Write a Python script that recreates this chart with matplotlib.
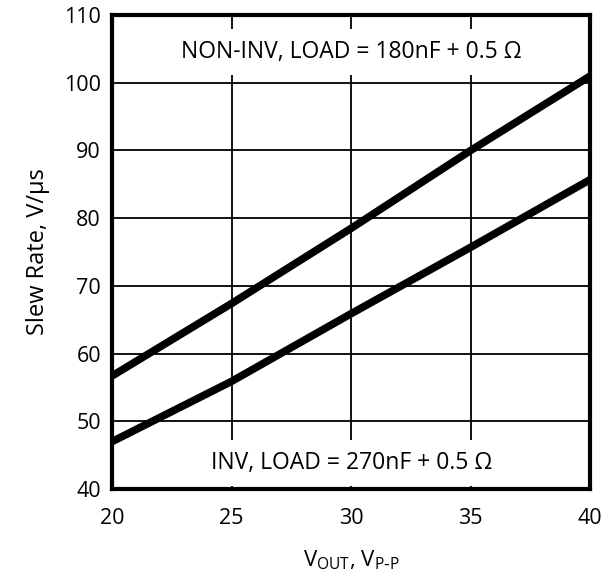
import matplotlib.pyplot as plt

plt.rcParams['font.family'] = ['Open Sans', 'DejaVu Sans']

# V_OUT (Vp-p) and slew rate (V/us)
vout = [20, 25, 30, 35, 40]
sr_noninv = [56.7, 67.4, 78.5, 90.0, 101.0]
sr_inv = [47.0, 55.9, 65.9, 75.7, 85.7]

fig = plt.figure(figsize=(6.06, 5.78), dpi=100)
ax = fig.add_axes([0.185, 0.154, 0.789, 0.820])

ax.plot(vout, sr_noninv, color='black', linewidth=5.5, solid_capstyle='butt', zorder=3)
ax.plot(vout, sr_inv, color='black', linewidth=5.5, solid_capstyle='butt', zorder=3)

ax.set_xlim(20, 40)
ax.set_ylim(40, 110)
ax.set_xticks([20, 25, 30, 35, 40])
ax.set_yticks(range(40, 111, 10))
ax.grid(True, color='black', linewidth=1.3)
ax.tick_params(length=0, labelsize=15.5)
ax.tick_params(axis='x', pad=14)
ax.tick_params(axis='y', pad=8)
for s in ax.spines.values():
    s.set_linewidth(3)
    s.set_zorder(5)

ax.text(30, 104.5, 'NON-INV, LOAD = 180nF + 0.5 Ω', ha='center', va='center',
        fontsize=16.5, zorder=4,
        bbox=dict(facecolor='white', edgecolor='none', pad=8))
ax.text(30, 43.8, 'INV, LOAD = 270nF + 0.5 Ω', ha='center', va='center',
        fontsize=16.5, zorder=4,
        bbox=dict(facecolor='white', edgecolor='none', pad=8))

ax.set_ylabel('Slew Rate, V/µs', fontsize=17, labelpad=10)
ax.set_xlabel(r'V$_{\mathregular{OUT}}$, V$_{\mathregular{P\text{-}P}}$', fontsize=16, labelpad=14)

fig.savefig('out.png', dpi=100)
